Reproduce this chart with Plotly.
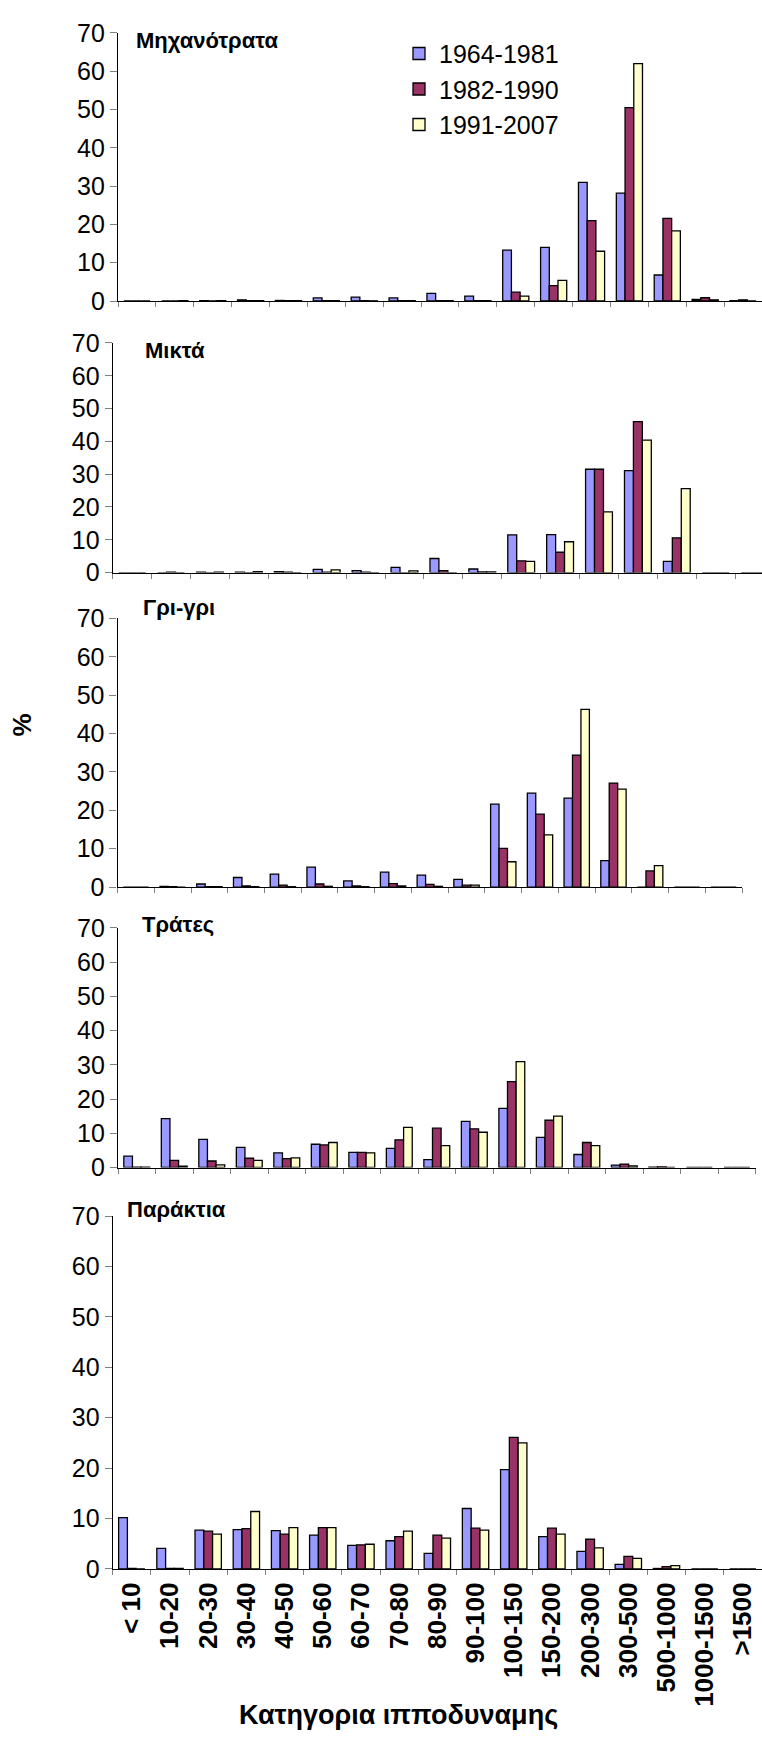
import plotly.graph_objects as go

W, H = 762, 1747

categories = ["< 10", "10-20", "20-30", "30-40", "40-50", "50-60", "60-70", "70-80",
              "80-90", "90-100", "100-150", "150-200", "200-300", "300-500",
              "500-1000", "1000-1500", ">1500"]
series_names = ["1964-1981", "1982-1990", "1991-2007"]
panel_titles = ["Μηχανότρατα", "Μικτά", "Γρι-γρι", "Τράτες", "Παράκτια"]
y_ticks = [0, 10, 20, 30, 40, 50, 60, 70]

# Μηχανότρατα
p1_a = [0, 0, 0.1, 0.3, 0.15, 0.8, 1.0, 0.8, 2.0, 1.3, 13.3, 14.0, 31.0, 28.2, 6.8, 0.4, 0.1]
p1_b = [0, 0, 0, 0.1, 0.1, 0.1, 0.1, 0.1, 0.1, 0.1, 2.3, 4.0, 21.0, 50.5, 21.6, 0.85, 0.3]
p1_c = [0, 0.1, 0.1, 0.1, 0.1, 0.1, 0.05, 0.1, 0.1, 0.1, 1.3, 5.4, 13.0, 62.0, 18.3, 0.3, 0]
# Μικτά
p2_a = [0, 0, 0.1, 0.1, 0.3, 1.0, 0.6, 1.6, 4.3, 1.1, 11.5, 11.6, 31.5, 31.1, 3.4, 0, 0]
p2_b = [0, 0.1, 0, 0, 0.1, 0.1, 0.1, 0, 0.6, 0.2, 3.6, 6.2, 31.5, 46.0, 10.6, 0, 0]
p2_c = [0, 0, 0.1, 0.3, 0, 0.8, 0, 0.5, 0, 0.2, 3.4, 9.4, 18.5, 40.4, 25.6, 0, 0]
# Γρι-γρι
p3_a = [0, 0.2, 0.8, 2.5, 3.4, 5.2, 1.6, 3.9, 3.1, 2.0, 21.6, 24.5, 23.2, 6.9, 0, 0, 0]
p3_b = [0, 0.1, 0.1, 0.3, 0.5, 0.8, 0.3, 0.9, 0.7, 0.5, 10.1, 19.0, 34.4, 27.1, 4.2, 0, 0]
p3_c = [0, 0, 0.1, 0.1, 0.1, 0.2, 0.1, 0.3, 0.2, 0.5, 6.6, 13.6, 46.3, 25.5, 5.6, 0, 0]
# Τράτες
p4_a = [3.3, 14.3, 8.2, 5.9, 4.3, 6.8, 4.4, 5.6, 2.3, 13.5, 17.3, 8.8, 3.8, 0.7, 0.1, 0, 0]
p4_b = [0.1, 2.1, 1.9, 2.7, 2.6, 6.6, 4.4, 8.1, 11.5, 11.3, 25.1, 13.8, 7.3, 1.0, 0.2, 0, 0]
p4_c = [0.1, 0.4, 0.8, 2.1, 2.8, 7.3, 4.3, 11.7, 6.4, 10.3, 30.9, 15.0, 6.4, 0.5, 0, 0, 0]
# Παράκτια
p5_a = [10.2, 4.1, 7.7, 7.8, 7.6, 6.7, 4.7, 5.6, 3.1, 12.0, 19.7, 6.4, 3.5, 0.9, 0.1, 0, 0]
p5_b = [0.1, 0.1, 7.5, 8.0, 6.9, 8.2, 4.8, 6.4, 6.7, 8.1, 26.1, 8.1, 5.9, 2.5, 0.45, 0, 0]
p5_c = [0, 0.1, 6.9, 11.4, 8.2, 8.2, 4.9, 7.5, 6.1, 7.7, 25.0, 6.9, 4.2, 2.1, 0.65, 0, 0]

panels = [(p1_a, p1_b, p1_c), (p2_a, p2_b, p2_c), (p3_a, p3_b, p3_c),
          (p4_a, p4_b, p4_c), (p5_a, p5_b, p5_c)]

colors = ["#9999FF", "#993366", "#FFFFCC"]
FONT = "Liberation Sans, Arial, sans-serif"

# pixel geometry: (x_left, x_right, y_zero, y_seventy, x_range_end)
geom = [
    (118.0, 762.0, 291.7, 19.3, 16.5),
    (112.7, 762.0, 567.7, 334.3, 16.19),
    (117.6, 742.0, 887.3, 614.3, 16.5),
    (118.0, 755.6, 1172.3, 928.7, 16.5),
    (112.7, 762.0, 1580.3, 1221.7, 16.5),
]
title_pos = [(133.6, 26.7), (143, 341.7), (141, 603), (140, 925), (125, 1215)]

fig = go.Figure()
layout_axes = {}
for i, vals in enumerate(panels):
    n = "" if i == 0 else str(i + 1)
    for j in range(3):
        fig.add_trace(go.Bar(
            x=categories, y=vals[j], name=series_names[j],
            marker=dict(color=colors[j], line=dict(color="black", width=1.3)),
            xaxis="x" + n, yaxis="y" + n,
            showlegend=(i == 0), legendgroup=series_names[j],
        ))
    xl, xr, y0, y70, xend = geom[i]
    layout_axes["xaxis" + n] = dict(
        domain=[xl / W, xr / W], anchor="y" + n, type="category",
        categoryorder="array", categoryarray=categories,
        range=[-0.5, xend], showline=True, linecolor="black", linewidth=1.3,
        ticks="outside", tickson="boundaries", ticklen=5, tickcolor="#808080",
        showticklabels=(i == 4), tickangle=-90, ticklabelstandoff=2,
        tickfont=dict(family=FONT, size=26, color="black", weight="bold"),
        showgrid=False, zeroline=False, fixedrange=True,
    )
    layout_axes["yaxis" + n] = dict(
        domain=[1 - y0 / H, 1 - y70 / H], anchor="x" + n,
        range=[0, 70], tickvals=y_ticks, showline=True, linecolor="black",
        linewidth=1.3, ticks="outside", ticklen=7, tickcolor="#808080",
        tickfont=dict(family=FONT, size=25, color="black"),
        showgrid=False, zeroline=False, fixedrange=True,
    )

annotations = []
for (tx, ty), t in zip(title_pos, panel_titles):
    annotations.append(dict(text=t, x=tx / W, y=1 - ty / H, xref="paper", yref="paper",
                            xanchor="left", yanchor="middle", showarrow=False,
                            font=dict(family=FONT, size=22, color="black", weight="bold")))
annotations.append(dict(text="Κατηγορια ιπποδυναμης", x=398 / W, y=1 - 1729 / H,
                        xref="paper", yref="paper", xanchor="center", yanchor="middle",
                        showarrow=False,
                        font=dict(family=FONT, size=27, color="black", weight="bold")))
annotations.append(dict(text="%", x=22 / W, y=1 - 723 / H, xref="paper", yref="paper",
                        xanchor="center", yanchor="middle", showarrow=False, textangle=-90,
                        font=dict(family=FONT, size=26, color="black", weight="bold")))

fig.update_layout(
    width=W, height=H, autosize=False,
    margin=dict(l=0, r=0, t=0, b=0),
    paper_bgcolor="white", plot_bgcolor="white",
    barmode="group", bargap=0.31, bargroupgap=0,
    legend=dict(x=399 / W, y=1 - 17 / H, xanchor="left", yanchor="top",
                bgcolor="rgba(0,0,0,0)", tracegroupgap=0,
                font=dict(family=FONT, size=25, color="black")),
    annotations=annotations,
    **layout_axes,
)

fig.write_html("out.html")
